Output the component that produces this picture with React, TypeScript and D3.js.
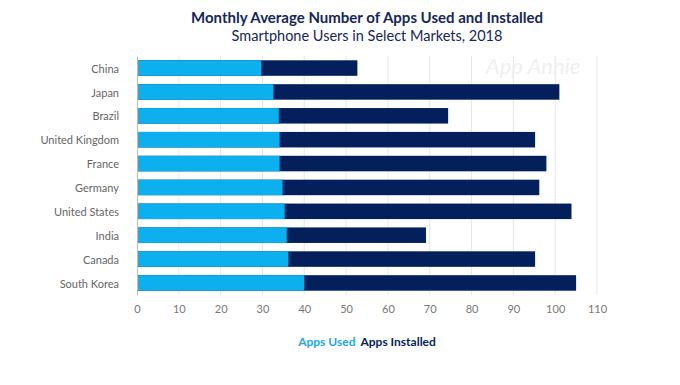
import React, { useEffect, useRef } from 'react';
import * as d3 from 'd3';

const countries = ['China', 'Japan', 'Brazil', 'United Kingdom', 'France', 'Germany', 'United States', 'India', 'Canada', 'South Korea'];
const appsUsed = [29.7, 32.6, 33.9, 34.1, 34.1, 34.8, 35.3, 35.8, 36.2, 40.0];
const appsInstalled = [52.7, 101.0, 74.4, 95.2, 97.9, 96.2, 103.9, 69.1, 95.2, 105.0];
const xTicks = [0, 10, 20, 30, 40, 50, 60, 70, 80, 90, 100, 110];

const USED = '#0cb0ee';
const INSTALLED = '#031f5c';
const FONT = 'Lato, "Open Sans", sans-serif';

function AppsChart() {
  const ref = useRef<SVGSVGElement>(null);

  useEffect(() => {
    if (!ref.current) return;
    const width = 680;
    const height = 385;
    const margin = { top: 56, right: 83, bottom: 90, left: 137 };
    const centerX = 367;

    const svg = d3.select(ref.current)
      .attr('width', width)
      .attr('height', height);

    svg.selectAll('*').remove();

    const x = d3.scaleLinear()
      .domain([0, 110])
      .range([margin.left, width - margin.right]);

    const y = d3.scaleBand<string>()
      .domain(countries)
      .range([margin.top, height - margin.bottom])
      .paddingInner(0.35)
      .paddingOuter(0.18);

    // titles
    svg.append('text')
      .attr('x', centerX).attr('y', 23)
      .attr('text-anchor', 'middle')
      .style('font-family', FONT).style('font-weight', '700').style('font-size', '15px')
      .attr('fill', '#14275c')
      .text('Monthly Average Number of Apps Used and Installed');
    svg.append('text')
      .attr('x', centerX).attr('y', 41)
      .attr('text-anchor', 'middle')
      .style('font-family', FONT).style('font-size', '14.5px')
      .attr('fill', '#14275c')
      .text('Smartphone Users in Select Markets, 2018');

    // gridlines
    svg.append('g')
      .selectAll('line')
      .data(xTicks.slice(1))
      .join('line')
      .attr('x1', d => x(d)).attr('x2', d => x(d))
      .attr('y1', margin.top).attr('y2', height - margin.bottom)
      .attr('stroke', '#e6e6e6').attr('stroke-width', 1);

    // watermark
    svg.append('text')
      .attr('x', 533).attr('y', 74)
      .attr('text-anchor', 'middle')
      .style('font-family', FONT).style('font-style', 'italic').style('font-size', '22px')
      .attr('fill', '#efefef')
      .text('App Annie');

    // bars
    svg.append('g')
      .selectAll('rect')
      .data(countries)
      .join('rect')
      .attr('x', x(0))
      .attr('y', d => y(d)!)
      .attr('height', y.bandwidth())
      .attr('width', (d, i) => x(appsInstalled[i]) - x(0))
      .attr('fill', INSTALLED);

    svg.append('g')
      .selectAll('rect')
      .data(countries)
      .join('rect')
      .attr('x', x(0))
      .attr('y', d => y(d)!)
      .attr('height', y.bandwidth())
      .attr('width', (d, i) => x(appsUsed[i]) - x(0))
      .attr('fill', USED);

    // y axis
    const yAxis = svg.append('g')
      .attr('transform', `translate(${margin.left},0)`)
      .call(d3.axisLeft(y).tickSize(0).tickPadding(18));
    yAxis.select('.domain').attr('stroke', '#bdbdbd');
    yAxis.selectAll('text')
      .attr('dy', '0.42em')
      .style('font-family', FONT).style('font-size', '11px')
      .attr('fill', '#666');

    // x axis
    const xAxis = svg.append('g')
      .attr('transform', `translate(0,${height - margin.bottom})`)
      .call(d3.axisBottom(x).tickValues(xTicks).tickSize(0).tickPadding(10));
    xAxis.select('.domain').remove();
    xAxis.selectAll('text')
      .style('font-family', FONT).style('font-size', '11px')
      .attr('fill', '#777');

    // legend
    const legend = svg.append('text')
      .attr('x', centerX).attr('y', 346)
      .attr('text-anchor', 'middle')
      .style('font-family', FONT).style('font-weight', '700').style('font-size', '12px');
    legend.append('tspan').attr('fill', '#1aa8ec').text('Apps Used');
    legend.append('tspan').attr('fill', INSTALLED).attr('dx', 5).text('Apps Installed');
  }, []);

  return (
    <div style={{ position: 'absolute', left: 0, top: 0, background: '#fff' }}>
      <svg ref={ref}></svg>
    </div>
  );
}

export default function App() {
  return <AppsChart />;
}
